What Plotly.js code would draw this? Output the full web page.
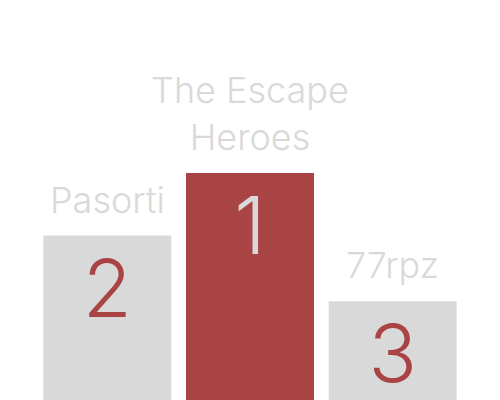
<!DOCTYPE html>
<html>
<head>
<meta charset="utf-8">
<script src="https://cdn.plot.ly/plotly-3.0.1.min.js"></script>
<style>html,body{margin:0;padding:0;background:#fff;}</style>
</head>
<body>
<div id="chart" style="width:500px;height:400px;"></div>
<script>
const teams = ["Pasorti", "The Escape<br>Heroes", "77rpz"];
const ranks = ["2", "1", "3"];
const scores = [50, 69, 30];
const barColors = ["#d9d9d9", "#a94444", "#d9d9d9"];
const rankColors = ["#a94444", "#d9d9d9", "#a94444"];

const FONT = "Inter, 'Open Sans', sans-serif";

const trace = {
  type: "bar",
  x: teams,
  y: scores,
  text: ranks,
  textposition: "inside",
  insidetextanchor: "end",
  constraintext: "none",
  textangle: 0,
  textfont: {family: FONT, size: 80, color: rankColors, weight: 300},
  marker: {color: barColors, line: {width: 0}},
  hoverinfo: "none"
};

const annotations = teams.map((t, i) => ({
  x: t, y: scores[i], xref: "x", yref: "y",
  text: t, showarrow: false, yanchor: "bottom", yshift: 12,
  font: {family: FONT, size: 36, color: "#d9d9d9", weight: 300}
}));

Plotly.newPlot("chart", [trace], {
  width: 500, height: 400,
  margin: {l: 36, r: 36, t: 0, b: 0},
  paper_bgcolor: "#fff", plot_bgcolor: "#fff",
  bargap: 0.103,
  showlegend: false,
  xaxis: {visible: false, fixedrange: true},
  yaxis: {visible: false, range: [0, 121.6], fixedrange: true},
  annotations: annotations
}, {displayModeBar: false, staticPlot: true});
</script>
</body>
</html>
